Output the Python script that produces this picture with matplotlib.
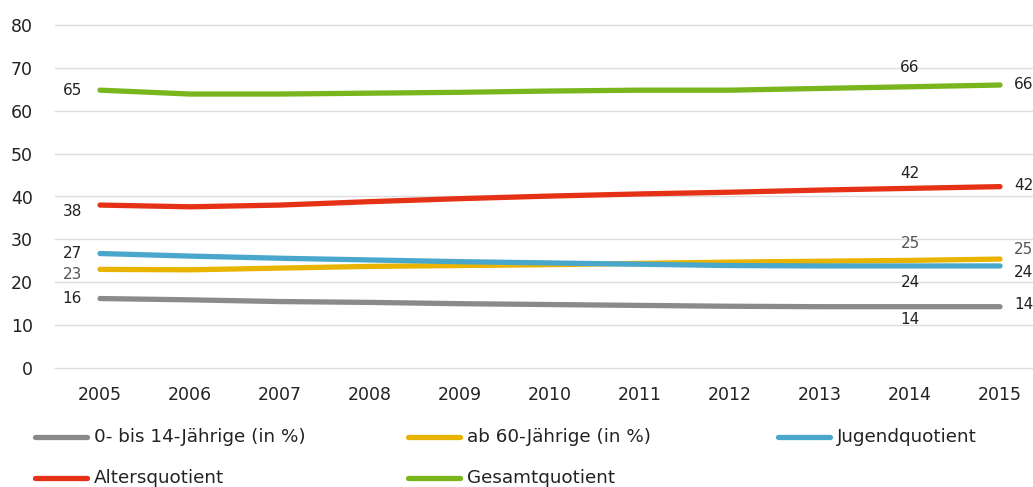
import matplotlib
matplotlib.use("Agg")
import matplotlib.pyplot as plt
from matplotlib.lines import Line2D
from matplotlib.transforms import offset_copy

plt.rcParams["font.family"] = ["DejaVu Sans"]

years = [2005, 2006, 2007, 2008, 2009, 2010, 2011, 2012, 2013, 2014, 2015]

kids_0_14 = [16.2, 15.9, 15.5, 15.3, 15.0, 14.8, 14.6, 14.4, 14.3, 14.3, 14.3]
age_60_plus = [23.0, 22.9, 23.3, 23.7, 23.9, 24.1, 24.4, 24.7, 24.9, 25.1, 25.4]
youth_ratio = [26.7, 26.1, 25.6, 25.2, 24.8, 24.5, 24.2, 23.9, 23.8, 23.8, 23.8]
old_age_ratio = [38.0, 37.6, 38.0, 38.8, 39.5, 40.1, 40.6, 41.0, 41.5, 41.9, 42.3]
total_ratio = [64.8, 63.9, 63.9, 64.1, 64.3, 64.6, 64.8, 64.8, 65.2, 65.6, 66.0]

series_names = ["0- bis 14-Jährige (in %)", "ab 60-Jährige (in %)", "Jugendquotient",
                "Altersquotient", "Gesamtquotient"]
series_values = [kids_0_14, age_60_plus, youth_ratio, old_age_ratio, total_ratio]
series_colors = ["#8a8a8a", "#e8b400", "#4aa7cc", "#e53217", "#79b51c"]
label_colors = ["#222222", "#555555", "#222222", "#222222", "#222222"]
# vertical offsets (px) of the first label, the 2014 label and the last label
first_dy = [0, -5, 0, -6, 0]
mid_dy = [-13, 17, -17, 15, 19]
last_dy = [2, 10, -7, 1, 1]

W, H = 1033, 487
fig = plt.figure(figsize=(W / 100, H / 100), dpi=100)
ax = fig.add_axes([55 / W, 1 - 368 / H, 990 / W, 343 / H])

x = list(range(len(years)))
ax.set_xlim(-0.5, len(years) - 0.5)
ax.set_ylim(0, 80)
ax.set_yticks(range(0, 81, 10))
ax.set_xticks(x)
ax.set_xticklabels([str(y) for y in years])
ax.grid(axis="y", color="#dddddd", lw=1)
for gl in ax.get_ygridlines():
    gl.set_clip_on(False)
ax.set_axisbelow(True)
for s in ax.spines.values():
    s.set_visible(False)
ax.tick_params(axis="both", length=0, labelsize=12.5, colors="#222222")
ax.tick_params(axis="x", pad=13)
ax.tick_params(axis="y", pad=16)

for vals, col, lcol, d0, dm, dl in zip(series_values, series_colors, label_colors,
                                       first_dy, mid_dy, last_dy):
    ax.plot(x, vals, color=col, lw=3.8, solid_capstyle="round", solid_joinstyle="round",
            clip_on=False, zorder=3)
    t0 = offset_copy(ax.transData, fig=fig, x=-18, y=d0, units="dots")
    ax.text(x[0], vals[0], f"{round(vals[0])}", transform=t0, ha="right", va="center",
            fontsize=11, color=lcol)
    tm = offset_copy(ax.transData, fig=fig, x=0, y=dm, units="dots")
    ax.text(x[-2], vals[-2], f"{round(vals[-2])}", transform=tm, ha="center", va="center",
            fontsize=11, color=lcol)
    tl = offset_copy(ax.transData, fig=fig, x=14, y=dl, units="dots")
    ax.text(x[-1], vals[-1], f"{round(vals[-1])}", transform=tl, ha="left", va="center",
            fontsize=11, color=lcol, clip_on=False)

# legend entries laid out in a 3-column grid below the plot
legend_x = [35, 408, 778, 35, 408]
legend_y = [437, 437, 437, 478, 478]
for name, col, lx, ly in zip(series_names, series_colors, legend_x, legend_y):
    fig.add_artist(Line2D([lx / W, (lx + 52) / W], [1 - ly / H, 1 - ly / H], color=col,
                          lw=3.8, solid_capstyle="round", transform=fig.transFigure))
    fig.text((lx + 59) / W, 1 - ly / H, name, ha="left", va="center", fontsize=13.2,
             color="#222222")

fig.savefig("out.png", dpi=100)
